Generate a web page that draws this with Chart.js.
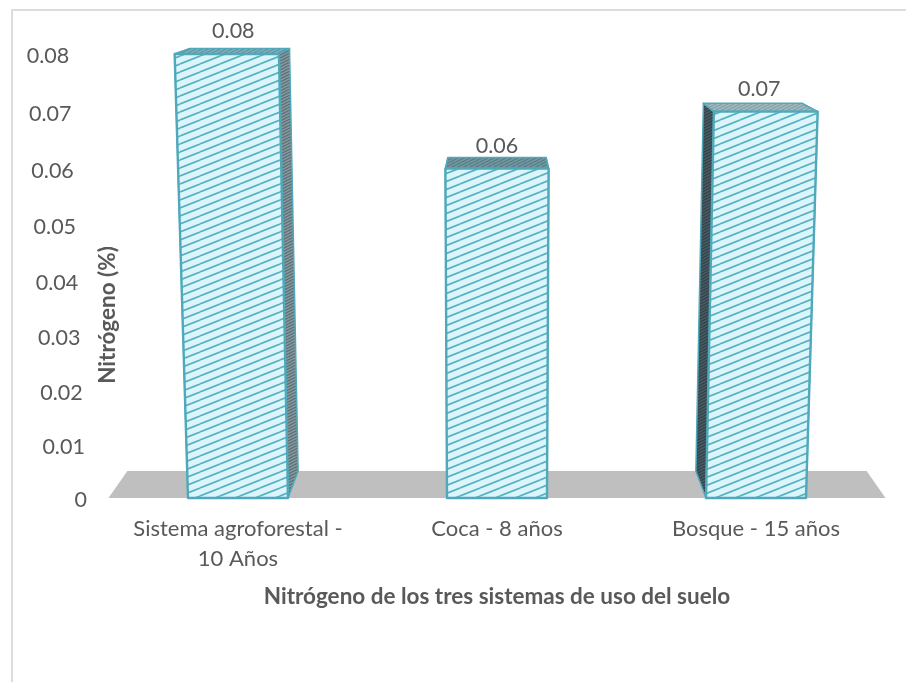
<!DOCTYPE html>
<html>
<head>
<meta charset="utf-8">
<title>Nitrógeno</title>
<script src="https://cdn.jsdelivr.net/npm/chart.js@4"></script>
<style>
  html, body { margin: 0; padding: 0; background: #fff; }
  #wrap { width: 906px; height: 682px; }
</style>
</head>
<body>
<div id="wrap"><canvas id="chart"></canvas></div>
<script>
const categories = [["Sistema agroforestal -", "10 Años"], "Coca - 8 años", "Bosque - 15 años"];
const nitrogenValues = [0.08, 0.06, 0.07];
const valueLabels = ["0.08", "0.06", "0.07"];
const yTitle = "Nitrógeno (%)";
const xTitle = "Nitrógeno de los tres sistemas de uso del suelo";

const FONT = "Lato, 'Open Sans', sans-serif";
const TEXT = "#595959";
const TEAL = "#4fa9ba";

// the original is a 3-D column chart, everything recedes to one vanishing point
const vanishY = -59;
const depth = 0.0485;
const heightBend = -0.0416;
const leanPerPixel = 0.0000975;

class PerspectiveScale extends Chart.LinearScale {
  getPixelForValue(value) {
    const t = (value - this.min) / (this.max - this.min);
    return this.bottom - this.height * t * (1 + heightBend) / (1 + heightBend * t);
  }
}
PerspectiveScale.id = "perspective";
PerspectiveScale.defaults = Chart.LinearScale.defaults;
Chart.register(PerspectiveScale);

function hatch(ctx, bg, line, lineWidth, w, h) {
  const c = document.createElement("canvas");
  c.width = w;
  c.height = h;
  const g = c.getContext("2d");
  g.fillStyle = bg;
  g.fillRect(0, 0, w, h);
  g.strokeStyle = line;
  g.lineWidth = lineWidth;
  for (let o = -h; o <= h; o += h) {
    g.beginPath();
    g.moveTo(0, h + o);
    g.lineTo(w, o);
    g.stroke();
  }
  return ctx.createPattern(c, "repeat");
}

function poly(ctx, pts, fill, stroke, lw) {
  ctx.beginPath();
  pts.forEach((p, i) => i ? ctx.lineTo(p[0], p[1]) : ctx.moveTo(p[0], p[1]));
  ctx.closePath();
  if (fill) { ctx.fillStyle = fill; ctx.fill(); }
  if (stroke) { ctx.strokeStyle = stroke; ctx.lineWidth = lw; ctx.lineJoin = "round"; ctx.stroke(); }
}

const bars3d = {
  id: "bars3d",
  beforeDraw(chart) {
    const { ctx, chartArea: a } = chart;
    // frame of the chart object
    ctx.save();
    ctx.strokeStyle = "#dcdcdc";
    ctx.lineWidth = 2;
    ctx.beginPath();
    ctx.moveTo(906, 10);
    ctx.lineTo(12, 10);
    ctx.lineTo(12, 682);
    ctx.stroke();
    // floor
    const cx = (a.left + a.right) / 2;
    const base = chart.scales.y.getPixelForValue(0);
    const back = p => [p[0] + (cx - p[0]) * depth, p[1] - (p[1] - vanishY) * depth];
    const l = [a.left, base], r = [a.right, base];
    poly(ctx, [l, r, back(r), back(l)], "#bfbfbf");
    ctx.restore();
  },
  beforeDatasetDraw(chart) {
    const { ctx, chartArea: a } = chart;
    const cx = (a.left + a.right) / 2;
    const meta = chart.getDatasetMeta(0);
    const y0 = chart.scales.y.getPixelForValue(0);
    const lean = (x, y) => [cx + (x - cx) * (1 + (y0 - y) * leanPerPixel), y];
    const back = p => [p[0] + (cx - p[0]) * depth, p[1] - (p[1] - vanishY) * depth];
    const frontFill = hatch(ctx, "#dcf5fb", "#57b2c3", 1.7, 20, 8);
    const topFills = [
      hatch(ctx, "#8fb0ba", "#5f97a6", 1.5, 6, 3),
      hatch(ctx, "#7c9aa1", "#54808b", 1.5, 6, 3),
      hatch(ctx, "#a9bcc0", "#84a2a9", 1.5, 6, 3)
    ];
    const sideFills = [
      hatch(ctx, "#8b9ea3", "#5d7279", 1.5, 6, 3),
      hatch(ctx, "#8b9ea3", "#5d7279", 1.5, 6, 3),
      hatch(ctx, "#4d5f66", "#33444b", 1.5, 6, 3)
    ];
    ctx.save();
    meta.data.forEach((bar, i) => {
      const half = bar.width / 2;
      const tl = lean(bar.x - half, bar.y), tr = lean(bar.x + half, bar.y);
      const bl = lean(bar.x - half, bar.base), br = lean(bar.x + half, bar.base);
      const stroke = TEAL;
      poly(ctx, [tl, bl, back(bl), back(tl)], sideFills[i], stroke, 1.5);
      poly(ctx, [tr, br, back(br), back(tr)], sideFills[i], stroke, 1.5);
      poly(ctx, [tl, tr, back(tr), back(tl)], topFills[i], stroke, 1.5);
      poly(ctx, [tl, tr, br, bl], frontFill, stroke, 2.4);
      // value above the column
      const bt = back(tl), btr = back(tr);
      ctx.fillStyle = TEXT;
      ctx.font = "21.5px " + FONT;
      ctx.textAlign = "center";
      ctx.textBaseline = "middle";
      ctx.fillText(valueLabels[i], (tl[0] + tr[0] + bt[0] + btr[0]) / 4, bar.y - 23);
    });
    ctx.restore();
    return false;
  },
  afterDraw(chart) {
    const { ctx, chartArea: a } = chart;
    const cx = (a.left + a.right) / 2;
    const y = chart.scales.y;
    const y0 = y.getPixelForValue(0);
    ctx.save();
    ctx.fillStyle = TEXT;
    ctx.font = "21.5px " + FONT;
    ctx.textAlign = "right";
    ctx.textBaseline = "middle";
    // tick labels follow the leaning wall
    y.ticks.forEach((t, i) => {
      const py = y.getPixelForTick(i);
      const x = cx + (87 - cx) * (1 + (y0 - py) * leanPerPixel);
      ctx.fillText(t.label, x, py + 2.5);
    });
    ctx.translate(108, 315);
    ctx.rotate(-Math.PI / 2);
    ctx.font = "bold 22.5px " + FONT;
    ctx.textAlign = "center";
    ctx.fillText(yTitle, 0, 0);
    ctx.restore();
  }
};

new Chart(document.getElementById("chart"), {
  type: "bar",
  data: {
    labels: categories,
    datasets: [{ label: "Nitrógeno", data: nitrogenValues, backgroundColor: "#dcf5fb", borderColor: TEAL }]
  },
  plugins: [bars3d],
  options: {
    responsive: true,
    maintainAspectRatio: false,
    animation: false,
    categoryPercentage: 1,
    barPercentage: 0.386,
    layout: { padding: { left: 0, right: 20.5, top: 54, bottom: 0 } },
    plugins: { legend: { display: false }, tooltip: { enabled: false } },
    scales: {
      x: {
        grid: { display: false },
        border: { display: false },
        afterFit(scale) { scale.height = 184; },
        ticks: { color: TEXT, font: { family: FONT, size: 22, lineHeight: 1.36 }, padding: 8, maxRotation: 0, autoSkip: false },
        title: {
          display: true,
          text: xTitle,
          color: TEXT,
          font: { family: FONT, size: 22.5, weight: "bold" },
          padding: { top: 0, bottom: 72 }
        }
      },
      y: {
        type: "perspective",
        min: 0,
        max: 0.08,
        afterFit(scale) { scale.width = 108.5; },
        grid: { display: false },
        border: { display: false },
        ticks: { display: false, stepSize: 0.01 }
      }
    }
  }
});
</script>
</body>
</html>
